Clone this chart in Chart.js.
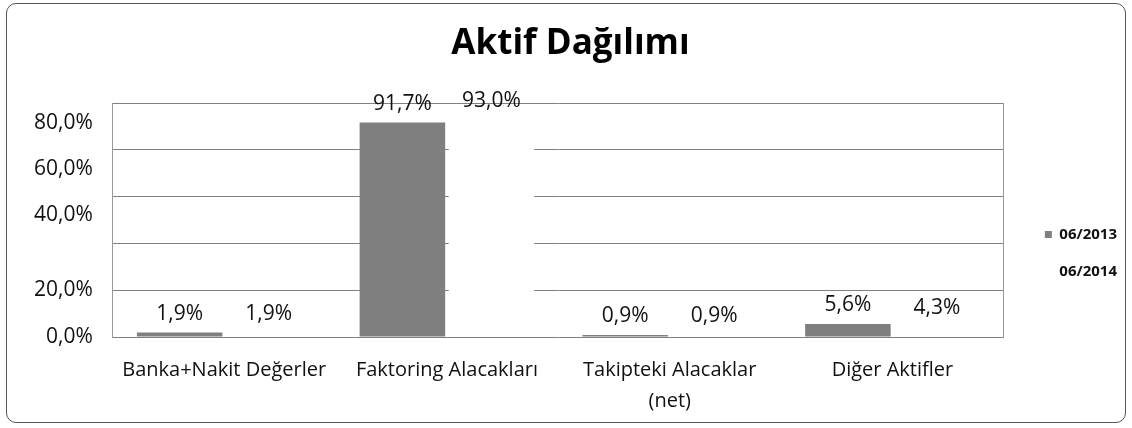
<!DOCTYPE html>
<html>
<head>
<meta charset="utf-8">
<script src="https://cdn.jsdelivr.net/npm/chart.js@4.4.1/dist/chart.umd.min.js"></script>
<style>
  html, body { margin: 0; padding: 0; background: #fff; }
  #wrap { position: relative; width: 1132px; height: 428px; }
  #frame { position: absolute; left: 6px; top: 3px; width: 1118px; height: 418px; border: 1px solid #555; border-radius: 10px; }
  #wrap canvas { position: absolute; left: 0; top: 0; }
</style>
</head>
<body>
<div id="wrap"><div id="frame"></div><canvas id="chart"></canvas></div>
<script>
// Veriler
const categories = ['Banka+Nakit Değerler', 'Faktoring Alacakları', ['Takipteki Alacaklar', '(net)'], 'Diğer Aktifler'];
const seriesNames = ['06/2013', '06/2014'];
const values2013 = [1.9, 91.7, 0.9, 5.6];
const values2014 = [1.9, 93.0, 0.9, 4.3];
// Eksen etiketleri ve taramadaki konumlari
const yTickLabels = ['0,0%', '20,0%', '40,0%', '60,0%', '80,0%'];
const yTickAt = [0, 20, 52, 72, 91.5];

Chart.defaults.font.family = 'Open Sans';
Chart.defaults.color = '#111';

function pct(v) {
    return v.toFixed(1).replace('.', ',') + '%';
}

// Cubuk ustu etiketler
const barLabels = {
    id: 'barLabels',
    afterDatasetsDraw(chart) {
        const ctx = chart.ctx;
        ctx.save();
        ctx.font = '21px "Open Sans"';
        ctx.fillStyle = '#111';
        ctx.textAlign = 'center';
        ctx.textBaseline = 'bottom';
        chart.data.datasets.forEach(function(ds, i) {
            chart.getDatasetMeta(i).data.forEach(function(bar, j) {
                ctx.fillText(pct(ds.data[j]), bar.x, bar.y - 8);
            });
        });
        ctx.restore();
    }
};

new Chart(document.getElementById('chart'), {
    type: 'bar',
    data: {
        labels: categories,
        datasets: [{
            label: seriesNames[0],
            data: values2013,
            backgroundColor: '#7f7f7f',
            borderWidth: 0,
            categoryPercentage: 0.8,
            barPercentage: 0.96
        }, {
            label: seriesNames[1],
            data: values2014,
            backgroundColor: '#ffffff',
            borderWidth: 0,
            categoryPercentage: 0.8,
            barPercentage: 0.96
        }]
    },
    options: {
        responsive: true,
        maintainAspectRatio: false,
        animation: false,
        layout: {
            padding: { left: 14, right: 5, top: 0, bottom: 1 }
        },
        plugins: {
            title: {
                display: true,
                text: 'Aktif Dağılımı',
                color: '#000',
                font: { size: 35, weight: 'bold' },
                padding: { top: 23, bottom: 38 }
            },
            legend: {
                position: 'right',
                title: {
                    display: true,
                    text: '',
                    font: { size: 14 },
                    padding: { top: 62, bottom: 0 }
                },
                labels: {
                    boxWidth: 7,
                    boxHeight: 7,
                    padding: 22,
                    color: '#111',
                    font: { size: 15, weight: 'bold' }
                }
            },
            tooltip: { enabled: false }
        },
        scales: {
            x: {
                grid: { display: false },
                border: { display: false },
                ticks: {
                    padding: 10,
                    font: { size: 20, lineHeight: 1.55 }
                }
            },
            y: {
                min: 0,
                max: 100,
                weight: 0,
                grid: { color: '#808080', drawTicks: false },
                border: { display: true, color: '#9a9a9a' },
                ticks: { stepSize: 20, display: false }
            },
            yLab: {
                type: 'linear',
                axis: 'y',
                position: 'left',
                min: 0,
                max: 100,
                weight: 1,
                grid: { display: false, drawTicks: false },
                border: { display: false },
                afterBuildTicks: function(scale) {
                    scale.ticks = yTickAt.map(function(v) { return { value: v }; });
                },
                ticks: {
                    padding: 20,
                    font: { size: 21 },
                    callback: function(value, index) { return yTickLabels[index]; }
                }
            },
            gap: {
                type: 'linear',
                axis: 'y',
                position: 'right',
                grid: { display: false, drawTicks: false },
                border: { display: true, color: '#9a9a9a' },
                ticks: { display: false },
                afterFit: function(scale) { scale.width = 19; }
            }
        }
    },
    plugins: [barLabels]
});
</script>
</body>
</html>
